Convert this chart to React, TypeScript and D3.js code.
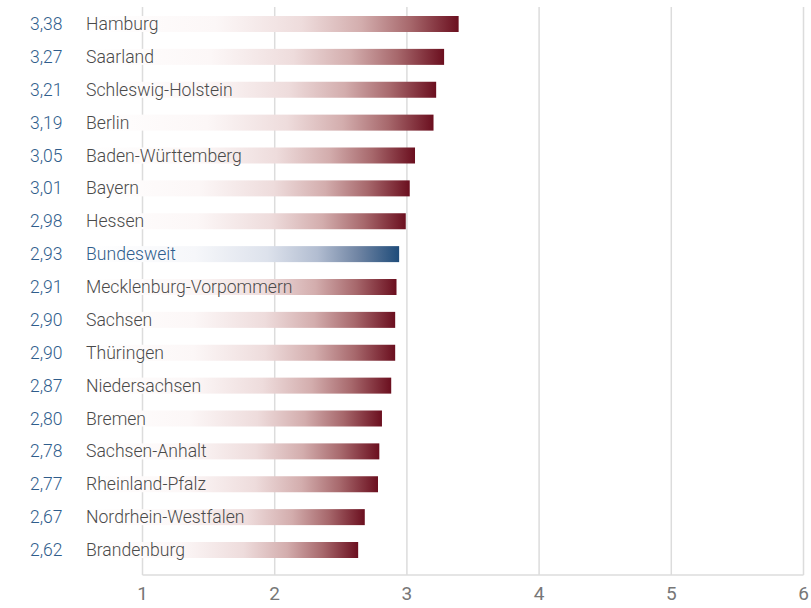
import React from "react";
import * as d3 from "d3";

const regions = [
  "Hamburg", "Saarland", "Schleswig-Holstein", "Berlin", "Baden-Württemberg", "Bayern", "Hessen",
  "Bundesweit", "Mecklenburg-Vorpommern", "Sachsen", "Thüringen", "Niedersachsen", "Bremen",
  "Sachsen-Anhalt", "Rheinland-Pfalz", "Nordrhein-Westfalen", "Brandenburg",
];
const values = [3.38, 3.27, 3.21, 3.19, 3.05, 3.01, 2.98, 2.93, 2.91, 2.90, 2.90, 2.87, 2.80, 2.78, 2.77, 2.67, 2.62];
const highlight = "Bundesweit";
const xTicks = [1, 2, 3, 4, 5, 6];

const W = 811;
const H = 608;

export default function App() {
  const x = d3.scaleLinear().domain([1, 6]).range([142.5, 803.5]);
  const y = d3.scalePoint<string>().domain(regions).range([24, 550]);
  const barH = 16;
  const barStart = 85;
  const fmt = (v: number) => d3.format(".2f")(v).replace(".", ",");
  const font = "Roboto, 'Noto Sans', sans-serif";

  const redStops = [
    [0, "#ffffff"], [0.35, "#fcf7f7"], [0.58, "#eedcdc"], [0.74, "#d3adad"],
    [0.87, "#a7686c"], [1, "#6b0f1f"],
  ];
  const blueStops = [
    [0, "#ffffff"], [0.35, "#f6f7fa"], [0.58, "#dde2ec"], [0.74, "#b2bdd1"],
    [0.87, "#6f84a3"], [1, "#1f4c7a"],
  ];

  return (
    <svg width={W} height={H} style={{ position: "absolute", left: 0, top: 0, background: "#fff" }}>
      <defs>
        <linearGradient id="gRed" x1="0" x2="1" y1="0" y2="0">
          {redStops.map(([o, c], i) => <stop key={i} offset={o as number} stopColor={c as string} />)}
        </linearGradient>
        <linearGradient id="gBlue" x1="0" x2="1" y1="0" y2="0">
          {blueStops.map(([o, c], i) => <stop key={i} offset={o as number} stopColor={c as string} />)}
        </linearGradient>
      </defs>
      {xTicks.map((t) => (
        <line key={t} x1={x(t)} x2={x(t)} y1={7} y2={575} stroke="#dcdcdc" strokeWidth={1.5} />
      ))}
      <line x1={x(1)} x2={x(6)} y1={575} y2={575} stroke="#dcdcdc" strokeWidth={1.5} />
      {xTicks.map((t) => (
        <text key={"t" + t} x={x(t)} y={593} textAnchor="middle" dominantBaseline="central"
          fontFamily={font} fontSize={19} fontWeight={400} fill="#777">{t}</text>
      ))}
      {regions.map((r, i) => {
        const cy = y(r) as number;
        const isH = r === highlight;
        return (
          <g key={r}>
            <rect x={barStart} y={cy - barH / 2} width={x(values[i]) + 1.5 - barStart} height={barH}
              fill={isH ? "url(#gBlue)" : "url(#gRed)"} />
            <text x={30} y={cy} dominantBaseline="central" fontFamily={font} fontSize={17.5}
              fontWeight={300} fill="#2f5d8c">{fmt(values[i])}</text>
            <text x={86} y={cy} dominantBaseline="central" fontFamily={font} fontSize={17.6}
              fontWeight={300} fill={isH ? "#2f5d8c" : "#4a4a4a"}>{r}</text>
          </g>
        );
      })}
    </svg>
  );
}
